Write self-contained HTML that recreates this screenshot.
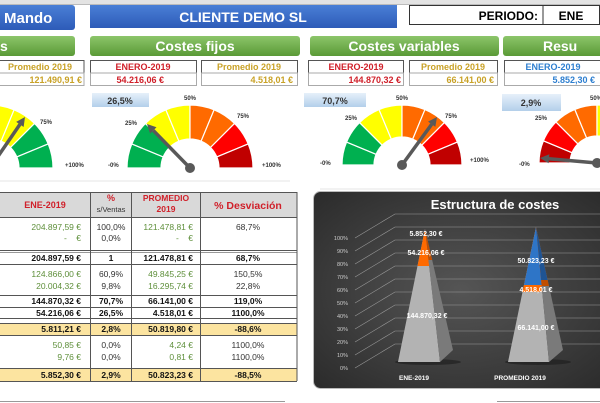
<!DOCTYPE html>
<html><head><meta charset="utf-8"><style>
html,body{margin:0;padding:0;background:#fff;width:600px;height:403px;overflow:hidden}
svg{display:block}
text{font-family:"Liberation Sans",Arial,sans-serif}
</style></head><body>
<svg id="s" width="600" height="403" viewBox="0 0 600 403" xmlns="http://www.w3.org/2000/svg">
<defs>
<linearGradient id="blue" x1="0" y1="0" x2="0" y2="1"><stop offset="0" stop-color="#4a7fd6"/><stop offset="1" stop-color="#2d5bb8"/></linearGradient>
<linearGradient id="green" x1="0" y1="0" x2="0" y2="1"><stop offset="0" stop-color="#8cc56a"/><stop offset="1" stop-color="#5a9a36"/></linearGradient>
<linearGradient id="lb" x1="0" y1="0" x2="0" y2="1"><stop offset="0" stop-color="#e6f0fa"/><stop offset="1" stop-color="#b3cfea"/></linearGradient>
<radialGradient id="dark" cx="0.5" cy="0.5" r="0.7"><stop offset="0" stop-color="#555"/><stop offset="1" stop-color="#2b2b2b"/></radialGradient>
<clipPath id="f1"><polygon points="425,229 398,362 440,362"/></clipPath>
<clipPath id="s1"><polygon points="425,229 440,362 453,350"/></clipPath>
<clipPath id="f2"><polygon points="536,227 508,362 549,362"/></clipPath>
<clipPath id="s2"><polygon points="536,227 549,362 563,350"/></clipPath>
</defs>
<rect x="0" y="0" width="600" height="4" fill="#e3e3e3"/>
<line x1="0" y1="4.5" x2="600" y2="4.5" stroke="#bbb" stroke-width="1"/>
<rect x="-6" y="5" width="81" height="25" rx="3" fill="url(#blue)"/>
<text x="4" y="23" font-size="15" font-weight="bold" fill="#fff">Mando</text>
<rect x="90" y="5" width="307" height="23" fill="url(#blue)"/>
<text x="243" y="22" font-size="14" font-weight="bold" fill="#fff" text-anchor="middle">CLIENTE DEMO SL</text>
<rect x="409.5" y="5.5" width="190" height="19" fill="#fff" stroke="#333"/>
<line x1="543" y1="5" x2="543" y2="25" stroke="#333"/>
<text x="538" y="20" font-size="12" font-weight="bold" text-anchor="end">PERIODO:</text>
<text x="571" y="20" font-size="12" font-weight="bold" text-anchor="middle">ENE</text>
<rect x="-6" y="36" width="81" height="20" rx="3" fill="url(#green)"/>
<text x="0" y="51" font-size="14" font-weight="bold" fill="#fff">s</text>
<rect x="90" y="36" width="210" height="20" rx="3" fill="url(#green)"/>
<text x="195" y="51" font-size="14" font-weight="bold" fill="#fff" text-anchor="middle">Costes fijos</text>
<rect x="310" y="36" width="189" height="20" rx="3" fill="url(#green)"/>
<text x="404" y="51" font-size="14" font-weight="bold" fill="#fff" text-anchor="middle">Costes variables</text>
<rect x="503" y="36" width="103" height="20" rx="3" fill="url(#green)"/>
<text x="543" y="51" font-size="14" font-weight="bold" fill="#fff">Resu</text>
<g font-size="9" font-weight="bold" stroke-width="1">
<rect x="-2" y="60.5" width="86" height="12.5" fill="#fff" stroke="#555"/><rect x="-2" y="73" width="86" height="12.5" fill="#fff" stroke="#aaa"/>
<text x="40" y="70" fill="#c9a227" text-anchor="middle">Promedio 2019</text><text x="82" y="83" fill="#c9a227" text-anchor="end">121.490,91 €</text>
<rect x="90.5" y="60.5" width="106" height="12.5" fill="#fff" stroke="#555"/><rect x="90.5" y="73" width="106" height="12.5" fill="#fff" stroke="#aaa"/>
<text x="143" y="70" fill="#d0202a" text-anchor="middle">ENERO-2019</text><text x="164" y="83" fill="#d0202a" text-anchor="end">54.216,06 €</text>
<rect x="201.5" y="60.5" width="96" height="12.5" fill="#fff" stroke="#555"/><rect x="201.5" y="73" width="96" height="12.5" fill="#fff" stroke="#aaa"/>
<text x="249" y="70" fill="#c9a227" text-anchor="middle">Promedio 2019</text><text x="293" y="83" fill="#c9a227" text-anchor="end">4.518,01 €</text>
<rect x="308.5" y="60.5" width="95" height="12.5" fill="#fff" stroke="#555"/><rect x="308.5" y="73" width="95" height="12.5" fill="#fff" stroke="#aaa"/>
<text x="356" y="70" fill="#d0202a" text-anchor="middle">ENERO-2019</text><text x="401" y="83" fill="#d0202a" text-anchor="end">144.870,32 €</text>
<rect x="409.5" y="60.5" width="88" height="12.5" fill="#fff" stroke="#555"/><rect x="409.5" y="73" width="88" height="12.5" fill="#fff" stroke="#aaa"/>
<text x="453" y="70" fill="#c9a227" text-anchor="middle">Promedio 2019</text><text x="494" y="83" fill="#c9a227" text-anchor="end">66.141,00 €</text>
<rect x="504.5" y="60.5" width="100" height="12.5" fill="#fff" stroke="#555"/><rect x="504.5" y="73" width="100" height="12.5" fill="#fff" stroke="#aaa"/>
<text x="553" y="70" fill="#2e7fd0" text-anchor="middle">ENERO-2019</text><text x="595" y="83" fill="#2e7fd0" text-anchor="end">5.852,30 €</text>
</g>
<rect x="92" y="93" width="57" height="14" fill="url(#lb)"/><text x="120" y="104" font-size="9" font-weight="bold" fill="#333" text-anchor="middle">26,5%</text>
<rect x="304" y="93" width="62" height="14" fill="url(#lb)"/><text x="335" y="104" font-size="9" font-weight="bold" fill="#333" text-anchor="middle">70,7%</text>
<rect x="502" y="94" width="59" height="17" fill="url(#lb)"/><text x="531" y="106" font-size="9" font-weight="bold" fill="#333" text-anchor="middle">2,9%</text>
<g id="gauges"></g>
<g font-size="6" font-weight="bold" fill="#333">
<text x="40" y="124">75%</text><text x="65" y="167">+100%</text>
<text x="108" y="167">-0%</text><text x="125" y="125">25%</text><text x="184" y="100">50%</text><text x="237" y="118">75%</text><text x="262" y="167">+100%</text>
<text x="320" y="165">-0%</text><text x="345" y="120">25%</text><text x="396" y="100">50%</text><text x="445" y="118">75%</text><text x="470" y="162">+100%</text>
<text x="519" y="166">-0%</text><text x="535" y="120">25%</text><text x="590" y="100">50%</text>
</g>
<line x1="0" y1="181" x2="290" y2="181" stroke="#e5e5e5"/>
<line x1="320" y1="189" x2="600" y2="189" stroke="#e5e5e5"/>
<rect x="0" y="192" width="297" height="25" fill="#d9d9d9"/>
<rect x="0" y="323" width="297" height="12" fill="#fce4a0"/>
<rect x="0" y="369" width="297" height="12" fill="#fce4a0"/>
<g stroke="#555" stroke-width="1">
<line x1="0" y1="192.5" x2="297" y2="192.5"/><line x1="0" y1="217.5" x2="297" y2="217.5"/>
<line x1="0" y1="250.5" x2="297" y2="250.5"/><line x1="0" y1="252.5" x2="297" y2="252.5" stroke="#999"/>
<line x1="0" y1="264.5" x2="297" y2="264.5"/><line x1="0" y1="295.5" x2="297" y2="295.5"/>
<line x1="0" y1="307.5" x2="297" y2="307.5"/><line x1="0" y1="318.5" x2="297" y2="318.5"/>
<line x1="0" y1="323.5" x2="297" y2="323.5"/><line x1="0" y1="335.5" x2="297" y2="335.5"/>
<line x1="0" y1="368.5" x2="297" y2="368.5"/><line x1="0" y1="381.5" x2="297" y2="381.5"/>
<line x1="90.5" y1="192" x2="90.5" y2="381"/><line x1="131.5" y1="192" x2="131.5" y2="381"/>
<line x1="200.5" y1="192" x2="200.5" y2="381"/><line x1="297" y1="192" x2="297" y2="381"/>
</g>
<g font-size="9" font-weight="bold" fill="#d0202a" text-anchor="middle">
<text x="45" y="208">ENE-2019</text><text x="111" y="201">%</text>
<text x="111" y="212" fill="#333" font-weight="normal" font-size="7.5">s/Ventas</text>
<text x="166" y="201" font-size="8.5">PROMEDIO</text><text x="166" y="212" font-size="8.5">2019</text>
<text x="248" y="209" font-size="10.5">% Desviación</text>
</g>
<g font-size="8.5" text-anchor="end">
<g fill="#5e8f3a"><text x="81" y="230">204.897,59 €</text><text x="81" y="241">-&#160;&#160;&#160;&#160;€</text>
<text x="193" y="230">121.478,81 €</text><text x="193" y="241">-&#160;&#160;&#160;&#160;€</text>
<text x="81" y="277">124.866,00 €</text><text x="81" y="289">20.004,32 €</text>
<text x="193" y="277">49.845,25 €</text><text x="193" y="289">16.295,74 €</text>
<text x="81" y="348">50,85 €</text><text x="81" y="360">9,76 €</text>
<text x="193" y="348">4,24 €</text><text x="193" y="360">0,81 €</text></g>
<g fill="#333" text-anchor="middle"><text x="111" y="230">100,0%</text><text x="111" y="241">0,0%</text>
<text x="248" y="230">68,7%</text><text x="111" y="277">60,9%</text><text x="111" y="289">9,8%</text>
<text x="248" y="277">150,5%</text><text x="248" y="289">22,8%</text>
<text x="111" y="348">0,0%</text><text x="111" y="360">0,0%</text>
<text x="248" y="348">1100,0%</text><text x="248" y="360">1100,0%</text></g>
<g fill="#111" font-weight="bold">
<text x="81" y="261">204.897,59 €</text><text x="111" y="261" text-anchor="middle">1</text><text x="193" y="261">121.478,81 €</text><text x="248" y="261" text-anchor="middle">68,7%</text>
<text x="81" y="304">144.870,32 €</text><text x="111" y="304" text-anchor="middle">70,7%</text><text x="193" y="304">66.141,00 €</text><text x="248" y="304" text-anchor="middle">119,0%</text>
<text x="81" y="316">54.216,06 €</text><text x="111" y="316" text-anchor="middle">26,5%</text><text x="193" y="316">4.518,01 €</text><text x="248" y="316" text-anchor="middle">1100,0%</text>
<text x="81" y="332">5.811,21 €</text><text x="111" y="332" text-anchor="middle">2,8%</text><text x="193" y="332">50.819,80 €</text><text x="248" y="332" text-anchor="middle">-88,6%</text>
<text x="81" y="378">5.852,30 €</text><text x="111" y="378" text-anchor="middle">2,9%</text><text x="193" y="378">50.823,23 €</text><text x="248" y="378" text-anchor="middle">-88,5%</text>
</g></g>
<line x1="0" y1="401.5" x2="285" y2="401.5" stroke="#999"/>
<line x1="497" y1="401.5" x2="600" y2="401.5" stroke="#999"/>
<rect x="313.5" y="191.5" width="295" height="197" rx="7" fill="url(#dark)" stroke="#bbb"/>
<text x="495" y="209" font-size="13" font-weight="bold" fill="#fff" text-anchor="middle">Estructura de costes</text>
<g id="grid" stroke="#9a9a9a" stroke-width="0.6" fill="none"></g>
<g id="ylab" font-size="5.5" fill="#ccc" text-anchor="end"></g>
<ellipse cx="428" cy="362" rx="33" ry="3" fill="#1a1a1a" opacity="0.6"/>
<g clip-path="url(#f1)"><rect x="390" y="220" width="80" height="150" fill="#b3b3b3"/><rect x="390" y="220" width="80" height="46" fill="#ff6a00"/><rect x="390" y="220" width="80" height="12" fill="#2e75c7"/></g>
<g clip-path="url(#s1)"><rect x="420" y="220" width="40" height="150" fill="#7a7a7a"/><rect x="420" y="220" width="40" height="40" fill="#c04e00"/><rect x="420" y="220" width="40" height="10" fill="#1f5494"/></g>
<ellipse cx="538" cy="362" rx="33" ry="3" fill="#1a1a1a" opacity="0.6"/>
<g clip-path="url(#f2)"><rect x="500" y="220" width="80" height="150" fill="#b3b3b3"/><rect x="500" y="220" width="80" height="72" fill="#ff6a00"/><rect x="500" y="220" width="80" height="65" fill="#2e75c7"/></g>
<g clip-path="url(#s2)"><rect x="530" y="220" width="40" height="150" fill="#7a7a7a"/><rect x="530" y="220" width="40" height="66" fill="#c04e00"/><rect x="530" y="220" width="40" height="60" fill="#1f5494"/></g>
<g font-size="7" font-weight="bold" fill="#fff" text-anchor="middle">
<text x="426" y="236">5.852,30 €</text><text x="426" y="255">54.216,06 €</text><text x="427" y="318">144.870,32 €</text>
<text x="536" y="263">50.823,23 €</text><text x="536" y="292">4.518,01 €</text><text x="536" y="330">66.141,00 €</text>
<text x="414" y="380" font-size="6.5">ENE-2019</text><text x="520" y="380" font-size="6.5">PROMEDIO 2019</text>
</g>
</svg>
<script>
var NS="http://www.w3.org/2000/svg";
function el(t,a,p){var e=document.createElementNS(NS,t);for(var k in a)e.setAttribute(k,a[k]);p.appendChild(e);return e;}
var g=document.getElementById("gauges");
var seq=["#00b050","#00b050","#ffff00","#ffff00","#ff6a00","#ff6a00","#ff0000","#c00000"];
function gauge(cx,cy,R,r,cols,tip){
 for(var i=0;i<8;i++){
  var a0=Math.PI-i*Math.PI/8,a1=Math.PI-(i+1)*Math.PI/8;
  var p="M"+(cx+R*Math.cos(a0))+","+(cy-R*Math.sin(a0))+" A"+R+","+R+" 0 0 1 "+(cx+R*Math.cos(a1))+","+(cy-R*Math.sin(a1))+
   " L"+(cx+r*Math.cos(a1))+","+(cy-r*Math.sin(a1))+" A"+r+","+r+" 0 0 0 "+(cx+r*Math.cos(a0))+","+(cy-r*Math.sin(a0))+"Z";
  el("path",{d:p,fill:cols[i],stroke:"#fff","stroke-width":1.2},g);
 }
 var dx=tip[0]-cx,dy=tip[1]-cy,L=Math.sqrt(dx*dx+dy*dy),ux=dx/L,uy=dy/L;
 var bx=tip[0]-ux*9,by=tip[1]-uy*9;
 el("line",{x1:cx,y1:cy,x2:bx,y2:by,stroke:"#595959","stroke-width":3.5},g);
 el("polygon",{points:tip[0]+","+tip[1]+" "+(bx-uy*4.5)+","+(by+ux*4.5)+" "+(bx+uy*4.5)+","+(by-ux*4.5),fill:"#595959"},g);
 el("circle",{cx:cx,cy:cy,r:5,fill:"#595959"},g);
}
var rev=seq.slice().reverse();
gauge(-10,168,63,29,rev,[25,117]);
gauge(190,168,63,29,seq,[147,124]);
gauge(402,165,60,28,seq,[437,117]);
gauge(597,163,58,27,["#c00000","#ff0000","#ff6a00","#ff6a00","#ffff00","#ffff00","#00b050","#00b050"],[540,158]);
var gr=document.getElementById("grid"),yl=document.getElementById("ylab");
for(var i=0;i<=10;i++){
 var y=368-i*13;
 el("polyline",{points:"355,"+y+" 395,"+(y-24)+" 600,"+(y-24)},gr);
 var t=el("text",{x:348,y:y+2},yl);t.textContent=(i*10)+"%";
}
</script>
</body></html>
